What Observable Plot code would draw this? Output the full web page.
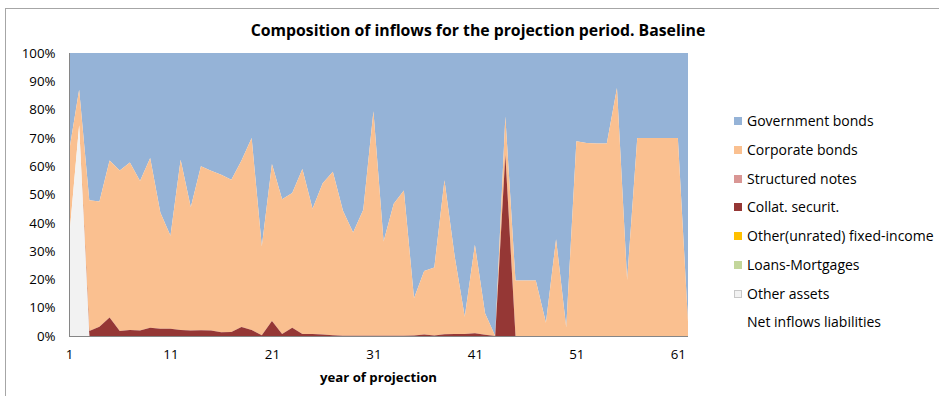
<!DOCTYPE html>
<html><head><meta charset="utf-8">
<script src="https://cdn.jsdelivr.net/npm/d3@7"></script>
<script src="https://cdn.jsdelivr.net/npm/@observablehq/plot@0.6"></script>
<style>
body{margin:0;background:#fff;}
#wrap{position:relative;width:939px;height:396px;overflow:hidden;font-family:"Open Sans",Lato,sans-serif;color:#000;}
#frame{position:absolute;left:5px;top:8px;width:960px;height:420px;border:1px solid #a6a6a6;box-sizing:border-box;}
#title{position:absolute;left:0;width:956px;top:20px;text-align:center;font-weight:bold;font-size:15.8px;line-height:20px;}
#xlabel{position:absolute;left:69px;width:619px;top:368px;text-align:center;font-weight:bold;font-size:13.2px;line-height:18px;}
.lg{position:absolute;left:747px;font-size:14px;line-height:16px;white-space:nowrap;}
.sw{position:absolute;left:-13px;top:4px;width:8px;height:8px;box-sizing:border-box;}
#chart{position:absolute;left:0;top:0;}
</style></head><body><div id="wrap"><div id="frame"></div><div id="chart"></div><div id="title">Composition of inflows for the projection period. Baseline</div><div id="xlabel">year of projection</div></div>
<script>
const years = [1,2,3,4,5,6,7,8,9,10,11,12,13,14,15,16,17,18,19,20,21,22,23,24,25,26,27,28,29,30,31,32,33,34,35,36,37,38,39,40,41,42,43,44,45,46,47,48,49,50,51,52,53,54,55,56,57,58,59,60,61,62];
const xTicks = [1,11,21,31,41,51,61];
const seriesNames = ["Government bonds","Corporate bonds","Structured notes","Collat. securit.","Other(unrated) fixed-income","Loans-Mortgages","Other assets"];
const seriesColors = ["#95B3D7","#FAC090","#D99694","#953735","#FFC000","#C3D69B","#F2F2F2"];
// values in percent
const government = [35,13,52,52.5,38,41.5,38.7,45.2,37.1,56.4,64.6,37.7,54.5,40,41.6,43,44.8,38,30,68.4,39.2,51.7,49.5,41,55,46,42,55.7,63.4,55.4,20.6,66.6,53.3,48.6,86.7,77,75.8,45,71.7,93.2,67.8,92,100,22.4,80.4,80.4,80.4,95.3,65.8,97,31.2,31.8,32,32,12.4,80.2,30,30,30,30,30,95];
const corporate = [31,12.5,46.2,44.2,55.5,56.7,59.2,52.9,60,41,32.8,60.2,43.6,58,56.5,55.7,53.8,58.8,67.9,31.3,55.5,47.6,47.6,58.3,44.3,53.5,57.7,44.2,36.5,44.5,79.3,33.3,46.6,51.3,13.1,22.5,24,54.4,27.6,6.1,31.2,7.6,0,13.6,19.6,19.6,19.6,4.7,34.2,3,68.8,68.2,68,68,87.6,19.8,70,70,70,70,70,5];
const structured = [0,0,0,0,0,0,0,0,0,0,0,0,0,0,0,0,0,0,0,0,0,0,0,0,0,0,0,0,0,0,0,0,0,0,0,0,0,0,0,0,0,0,0,0,0,0,0,0,0,0,0,0,0,0,0,0,0,0,0,0,0,0];
const collat = [0,0,1.8,3.3,6.5,1.8,2.1,1.9,2.9,2.6,2.6,2.1,1.9,2,1.9,1.3,1.4,3.2,2.1,0.3,5.3,0.7,2.9,0.7,0.7,0.5,0.3,0.1,0.1,0.1,0.1,0.1,0.1,0.1,0.2,0.5,0.2,0.6,0.7,0.7,1,0.4,0,64,0,0,0,0,0,0,0,0,0,0,0,0,0,0,0,0,0,0];
const unrated = [0,0,0,0,0,0,0,0,0,0,0,0,0,0,0,0,0,0,0,0,0,0,0,0,0,0,0,0,0,0,0,0,0,0,0,0,0,0,0,0,0,0,0,0,0,0,0,0,0,0,0,0,0,0,0,0,0,0,0,0,0,0];
const loans = [0,0,0,0,0,0,0,0,0,0,0,0,0,0,0,0,0,0,0,0,0,0,0,0,0,0,0,0,0,0,0,0,0,0,0,0,0,0,0,0,0,0,0,0,0,0,0,0,0,0,0,0,0,0,0,0,0,0,0,0,0,0];
const otherAssets = [34,74.5,0,0,0,0,0,0,0,0,0,0,0,0,0,0,0,0,0,0,0,0,0,0,0,0,0,0,0,0,0,0,0,0,0,0,0,0,0,0,0,0,0,0,0,0,0,0,0,0,0,0,0,0,0,0,0,0,0,0,0,0];
const legendExtra = "Net inflows liabilities";
const yTicks = [0,0.1,0.2,0.3,0.4,0.5,0.6,0.7,0.8,0.9,1];

const seriesValues = [government, corporate, structured, collat, unrated, loans, otherAssets];
const data = [];
seriesNames.forEach((name, i) => {
  years.forEach((yr, j) => data.push({year: yr, series: name, value: seriesValues[i][j]}));
});
const stackOrder = seriesNames.slice().reverse(); // bottom first

const chart = Plot.plot({
  width: 939, height: 396,
  marginLeft: 69, marginRight: 251, marginTop: 53, marginBottom: 60,
  x: {domain: [1, 62]},
  y: {domain: [0, 1]},
  color: {domain: seriesNames, range: seriesColors},
  style: {fontFamily: "'Open Sans', Lato, sans-serif", fontSize: "13px", color: "#000", background: "transparent"},
  marks: [
    Plot.areaY(data, Plot.stackY({x: "year", y: "value", z: "series", fill: "series", order: stackOrder, offset: "normalize"})),
    Plot.ruleY([0], {stroke: "#868686", strokeWidth: 1}),
    Plot.ruleX([1], {stroke: "#868686", strokeWidth: 1}),
    Plot.axisY({ticks: yTicks, tickFormat: d3.format(".0%"), tickSize: 0, tickPadding: 14, label: null, fontSize: 13.3}),
    Plot.axisX({ticks: xTicks, tickFormat: d => String(d), tickSize: 0, tickPadding: 13, label: null, fontSize: 13.3})
  ]
});
document.getElementById("chart").appendChild(chart);

const wrap = document.getElementById("wrap");
const rows = seriesNames.map((n, i) => ({name: n, color: seriesColors[i]}));
rows.push({name: legendExtra, color: null});
rows.forEach((r, i) => {
  const d = document.createElement("div");
  d.className = "lg";
  d.style.top = (121.3 + i * 28.7 - 8) + "px";
  d.textContent = r.name;
  if (r.color) {
    const s = document.createElement("span");
    s.className = "sw";
    s.style.background = r.color;
    if (r.name === "Other assets") s.style.border = "1px solid #c8c8c8";
    d.appendChild(s);
  }
  wrap.appendChild(d);
});
</script>
</body></html>
